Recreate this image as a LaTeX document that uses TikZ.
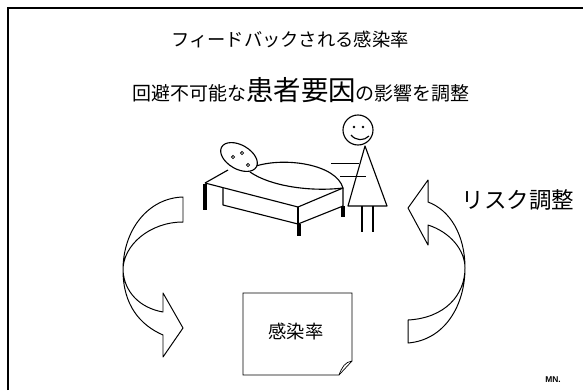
\documentclass[tikz,border=0pt]{standalone}
\usepackage{fontspec}
\setsansfont{Liberation Sans}
\newfontfamily\jp{Noto Sans CJK JP}

\begin{document}
\begin{tikzpicture}[x=0.025cm, y=-0.025cm,
  ribbon/.style={draw, fill=white, line width=0.7pt, line join=round},
  outline/.style={line width=0.8pt, line join=round},
  bedleg/.style={line width=2.2pt},
  jp/.style={font={\jp\fontsize{#1}{#1}\selectfont}}]
\useasboundingbox (0,0) rectangle (583,390);
\draw[line width=1.4pt] (8,390) -- (8,8) -- (583,8);

\node[jp=13] (title) at (290,40) {フィードバックされる感染率};
\node[jp=13.5] (adjust) at (301,90)
  {回避不可能な{\fontsize{19.5}{20}\selectfont 患者要因}の影響を調整};

% bed with the patient
\draw[outline] (205,183) -- (228,170);
\draw[outline] (205,183) -- (298,207) -- (343,188);
\draw[outline] (223,188) -- (223,205) -- (298,224) -- (343,206) -- (343,188);
\draw[outline] (298,207) -- (298,224);
\draw[outline, fill=white] (256,166) .. controls (285,157) and (336,164) .. (343,188)
  .. controls (310,192) and (270,186) .. (250,172);
\draw[outline, fill=white, rotate around={-30:(239,157)}] (239,157) ellipse [x radius=20, y radius=12];
\foreach \p in {(233,157), (242,153), (248,165)}
  \draw[line width=0.6pt] \p circle [radius=1.6];
\draw[bedleg] (205,184) -- (205,210);
\draw[bedleg] (299,224) -- (299,236);
\draw[bedleg] (343,206) -- (343,217);

% nurse
\draw[outline] (358,130) circle [radius=15];
\fill (354,127) circle [radius=1.4] (363,127) circle [radius=1.4];
\draw[outline] (351,135) .. controls (356,141) and (364,141) .. (369,136);
\draw[outline] (365,146) -- (348,206) -- (387,206) -- cycle;
\draw[outline] (362,206) -- (362,232) (373,206) -- (373,232);
\draw[line width=0.6pt] (331,163) -- (359,163);
\draw[line width=0.6pt] (340,176) -- (366,176);

% feedback ribbons
\draw[ribbon] (183,197) .. controls (148,198) and (123,230) .. (123,270)
  .. controls (123,305) and (140,325) .. (163,335)
  -- (163,357) -- (183,328) -- (163,293) -- (163,312)
  .. controls (140,308) and (124,292) .. (123,270)
  .. controls (123,245) and (150,222) .. (183,222) -- cycle;
\draw[ribbon] (408,343) .. controls (445,340) and (465,305) .. (465,268)
  .. controls (465,235) and (450,210) .. (428,202)
  -- (428,180) -- (408,208) -- (428,245) -- (428,225)
  .. controls (450,232) and (465,250) .. (465,268)
  .. controls (465,295) and (445,318) .. (408,320) -- cycle;
\node[jp=16] (risk) at (518,200) {リスク調整};

% the sheet with the rate
\draw[line width=0.5pt] (243,293) -- (352,293) -- (352,361) -- (339,375) -- (243,375) -- cycle;
\draw[line width=0.5pt] (352,361) .. controls (345,362) and (342,367) .. (339,375);
\node[jp=13] (rate) at (296,332) {感染率};

\node[font=\sffamily\bfseries\fontsize{6}{6}\selectfont] (sign) at (553,380) {MN.};
\end{tikzpicture}
\end{document}
